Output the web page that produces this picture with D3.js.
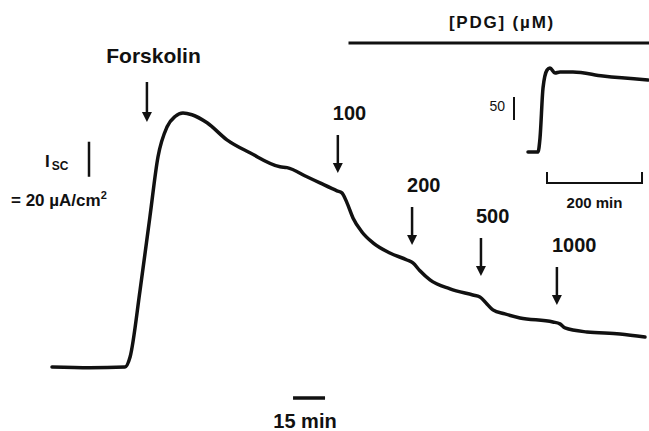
<!DOCTYPE html>
<html>
<head>
<meta charset="utf-8">
<script src="https://cdn.jsdelivr.net/npm/d3@7"></script>
<style>
  body { margin: 0; background: #fff; }
  svg { display: block; font-family: "Liberation Sans", Arial, sans-serif; }
  .lbl { font-weight: bold; fill: #111; }
</style>
</head>
<body>
<div id="chart"></div>
<script>
// main trace: time (min) and Isc (µA/cm2 above baseline)
const traceTime = [0, 17.8, 34.2, 36.6, 41.3, 45.9, 49.7, 53.9, 57.7, 61.4, 65.6, 72.7, 82.0, 92.8,
  106.9, 110.2, 119.5, 125.6, 133.6, 135.9, 138.3, 141.1, 145.3, 150.5, 158.4, 166.4, 169.2,
  172.5, 177.2, 186.6, 197.3, 200.6, 203.9, 206.7, 212.3, 219.4, 234.8, 238.1, 240.5, 250.8, 266.3, 278.0];
const traceIsc = [0, -0.4, 0, 5.7, 44, 85.7, 120, 137, 143, 145, 144, 139.4, 129.7, 122.3,
  114.3, 113.8, 108.6, 105.1, 100.6, 99.4, 93.7, 85.1, 77.1, 70.9, 65.1, 61.1, 59.4,
  54.9, 49.7, 44.6, 41.1, 40, 36, 32.6, 30.3, 28, 25.7, 24.6, 22.3, 20, 18.9, 17.1];

// additions (arrows)
const addLabels = ["100", "200", "500", "1000"];
const addTimes = [134.0, 168.8, 201.1, 236.7];
const addArrowTop = [135, 207, 238, 267];
const forskolinTime = 44.5;

// inset trace
const insetTime = [0, 21, 25.3, 31.6, 40, 46.3, 56.8, 67.4, 94.7, 157.9, 252.6];
const insetIsc = [0, 0, 30.4, 139, 178, 182.6, 171.7, 174, 174, 165, 156.5];

const W = 649, H = 431;
const svg = d3.select("#chart").append("svg").attr("width", W).attr("height", H);

const x = d3.scaleLinear().domain([0, 278]).range([52, 645]);
const y = d3.scaleLinear().domain([0, 145]).range([367, 113]);

const line = d3.line()
  .x(d => x(d[0])).y(d => y(d[1]))
  .curve(d3.curveMonotoneX);

svg.append("path")
  .datum(traceTime.map((t, i) => [t, traceIsc[i]]))
  .attr("d", line)
  .attr("fill", "none").attr("stroke", "#111")
  .attr("stroke-width", 3.5).attr("stroke-linejoin", "round").attr("stroke-linecap", "round");

// arrow helper
function arrow(cx, y0, y1) {
  const g = svg.append("g");
  g.append("line").attr("x1", cx).attr("x2", cx).attr("y1", y0).attr("y2", y1 - 8)
    .attr("stroke", "#111").attr("stroke-width", 2.5);
  g.append("path")
    .attr("d", `M${cx - 5},${y1 - 10} L${cx + 5},${y1 - 10} L${cx},${y1} Z`)
    .attr("fill", "#111");
}

// forskolin
arrow(x(forskolinTime), 82, 122);
svg.append("text").attr("class", "lbl")
  .attr("x", 153.5).attr("y", 63).attr("text-anchor", "middle")
  .style("font-size", "21px").text("Forskolin");

// PDG additions
addTimes.forEach((t, i) => {
  const ax = x(t);
  arrow(ax, addArrowTop[i], addArrowTop[i] + 38);
  svg.append("text").attr("class", "lbl")
    .attr("x", ax - 5).attr("y", addArrowTop[i] - 15)
    .style("font-size", "20px").text(addLabels[i]);
});

// PDG bar
svg.append("line")
  .attr("x1", x(139)).attr("x2", x(280.5)).attr("y1", 43).attr("y2", 43)
  .attr("stroke", "#111").attr("stroke-width", 3);
svg.append("text").attr("class", "lbl")
  .attr("x", 502).attr("y", 28).attr("text-anchor", "middle")
  .style("font-size", "17px").style("letter-spacing", "1.8px")
  .text("[PDG] (µM)");

// Isc scale bar (20 µA/cm2)
svg.append("line")
  .attr("x1", 89).attr("x2", 89).attr("y1", y(128.6)).attr("y2", y(108.6))
  .attr("stroke", "#111").attr("stroke-width", 2.5);
const isc = svg.append("text").attr("class", "lbl").attr("x", 45).attr("y", 167)
  .style("font-size", "17px");
isc.append("tspan").text("I");
isc.append("tspan").attr("dy", 3).attr("dx", 2).style("font-size", "12px").text("SC");
const unit = svg.append("text").attr("class", "lbl").attr("x", 11).attr("y", 206)
  .style("font-size", "17px");
unit.append("tspan").text("=  20 µA/cm");
unit.append("tspan").attr("dy", -7).style("font-size", "11px").text("2");

// time scale bar (15 min)
svg.append("line")
  .attr("x1", x(113)).attr("x2", x(128)).attr("y1", 398).attr("y2", 398)
  .attr("stroke", "#111").attr("stroke-width", 3.5);
svg.append("text").attr("class", "lbl")
  .attr("x", 305).attr("y", 428).attr("text-anchor", "middle")
  .style("font-size", "20px").text("15 min");

// inset
const xi = d3.scaleLinear().domain([0, 252.6]).range([528, 648]);
const yi = d3.scaleLinear().domain([0, 182.6]).range([152, 68]);
const lineI = d3.line().x(d => xi(d[0])).y(d => yi(d[1])).curve(d3.curveMonotoneX);
svg.append("path")
  .datum(insetTime.map((t, i) => [t, insetIsc[i]]))
  .attr("d", lineI)
  .attr("fill", "none").attr("stroke", "#111")
  .attr("stroke-width", 3.5).attr("stroke-linejoin", "round").attr("stroke-linecap", "round");

// inset scale bars
svg.append("line")
  .attr("x1", 514).attr("x2", 514).attr("y1", yi(119.6)).attr("y2", yi(69.6))
  .attr("stroke", "#111").attr("stroke-width", 2);
svg.append("text").attr("class", "lbl")
  .attr("x", 505).attr("y", 111).attr("text-anchor", "end")
  .style("font-size", "14px").style("font-weight", "normal").text("50");

svg.append("path")
  .attr("d", `M${xi(40)},172 V183 H${xi(240)} V172`)
  .attr("fill", "none").attr("stroke", "#111").attr("stroke-width", 2);
svg.append("text").attr("class", "lbl")
  .attr("x", xi(140)).attr("y", 208).attr("text-anchor", "middle")
  .style("font-size", "15px").text("200 min");
</script>
</body>
</html>
